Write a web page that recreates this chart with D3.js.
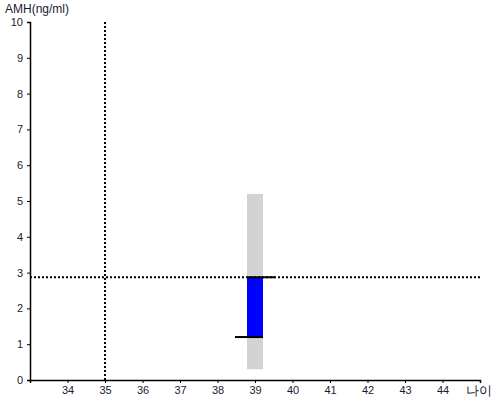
<!DOCTYPE html>
<html>
<head>
  <script src="https://d3js.org/d3.v7.min.js"></script>
  <style>
    body { margin: 0; background: #fff; }
    text { font-family: "Liberation Sans", Arial, sans-serif; }
  </style>
</head>
<body>
  <div id="chart"></div>
  <script>
    // data
    const xTicks = [34, 35, 36, 37, 38, 39, 40, 41, 42, 43, 44];
    const yTicks = [0, 1, 2, 3, 4, 5, 6, 7, 8, 9, 10];
    const ages = [39];
    const rangeLow = [0.3];
    const rangeHigh = [5.2];
    const valueLow = [1.2];
    const valueHigh = [2.87];
    const refAge = 35;
    const refAmh = 2.87;

    const width = 500, height = 400;
    const margin = { top: 22, right: 20, bottom: 20, left: 30 };

    const x = d3.scaleLinear().domain([33, 45]).range([margin.left, width - margin.right]);
    const y = d3.scaleLinear().domain([0, 10]).range([height - margin.bottom, margin.top]);

    const svg = d3.select("#chart").append("svg")
      .attr("width", width)
      .attr("height", height);

    const bw = 16;

    // gray range bars
    svg.selectAll(".range")
      .data(ages)
      .enter().append("rect")
      .attr("class", "range")
      .attr("x", d => x(d) - bw / 2)
      .attr("y", (d, i) => y(rangeHigh[i]))
      .attr("width", bw)
      .attr("height", (d, i) => y(rangeLow[i]) - y(rangeHigh[i]))
      .attr("fill", "#d3d3d3");

    // blue value bars
    svg.selectAll(".val")
      .data(ages)
      .enter().append("rect")
      .attr("class", "val")
      .attr("x", d => x(d) - bw / 2)
      .attr("y", (d, i) => y(valueHigh[i]))
      .attr("width", bw)
      .attr("height", (d, i) => y(valueLow[i]) - y(valueHigh[i]))
      .attr("fill", "#0000ff");

    // reference dotted lines
    svg.append("line")
      .attr("x1", x(refAge)).attr("x2", x(refAge))
      .attr("y1", y(10)).attr("y2", y(0))
      .attr("stroke", "#000").attr("stroke-width", 2)
      .attr("stroke-dasharray", "2,2");

    svg.append("line")
      .attr("x1", x(33)).attr("x2", x(45))
      .attr("y1", y(refAmh)).attr("y2", y(refAmh))
      .attr("stroke", "#000").attr("stroke-width", 2)
      .attr("stroke-dasharray", "2,2");

    // whisker caps
    svg.selectAll(".capHigh")
      .data(ages)
      .enter().append("line")
      .attr("x1", d => x(d) - bw / 2)
      .attr("x2", d => x(d) + bw / 2 + 12)
      .attr("y1", (d, i) => y(valueHigh[i]))
      .attr("y2", (d, i) => y(valueHigh[i]))
      .attr("stroke", "#000").attr("stroke-width", 2);

    svg.selectAll(".capLow")
      .data(ages)
      .enter().append("line")
      .attr("x1", d => x(d) - bw / 2 - 12)
      .attr("x2", d => x(d) + bw / 2)
      .attr("y1", (d, i) => y(valueLow[i]))
      .attr("y2", (d, i) => y(valueLow[i]))
      .attr("stroke", "#000").attr("stroke-width", 2);

    // axes
    const xAxis = d3.axisBottom(x).tickValues(xTicks).tickSizeOuter(0).tickSize(3).tickPadding(3);
    const yAxis = d3.axisLeft(y).tickValues(yTicks).tickSizeOuter(0).tickSize(3).tickPadding(4);

    const gx = svg.append("g")
      .attr("transform", `translate(0,${y(0)})`)
      .call(xAxis);
    const gy = svg.append("g")
      .attr("transform", `translate(${x(33)},0)`)
      .call(yAxis);

    [gx, gy].forEach(g => {
      g.select(".domain").attr("stroke", "#000").attr("stroke-width", 1.5);
      g.selectAll(".tick line").attr("stroke", "#000");
      g.selectAll(".tick text")
        .attr("font-family", "Liberation Sans, Arial, sans-serif")
        .attr("font-size", 11)
        .attr("fill", "#1a1a33");
    });

    svg.append("text")
      .attr("x", 5)
      .attr("y", 13)
      .attr("font-size", 12)
      .attr("fill", "#1a1a33")
      .text("AMH(ng/ml)");

    svg.append("text")
      .attr("x", 492)
      .attr("y", 395)
      .attr("text-anchor", "end")
      .attr("font-size", 13)
      .attr("fill", "#1a1a33")
      .text("나이");
  </script>
</body>
</html>
